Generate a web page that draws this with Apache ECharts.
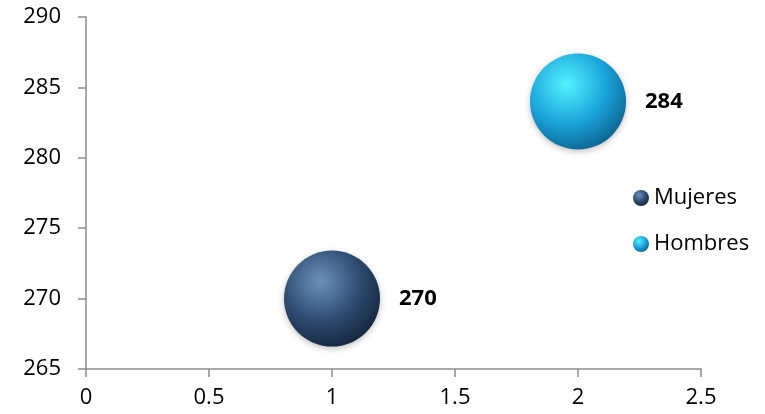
<!DOCTYPE html>
<html><head><meta charset="utf-8">
<script src="https://cdn.jsdelivr.net/npm/echarts@6/dist/echarts.min.js"></script>
<style>html,body{margin:0;padding:0;background:#fff}#c{width:765px;height:414px}</style>
</head><body><div id="c"></div>
<script>
var seriesNames = ['Mujeres', 'Hombres'];
var xValues = [1, 2];
var yValues = [270, 284];
var xTicks = [0, 0.5, 1, 1.5, 2, 2.5];
var yTicks = [265, 270, 275, 280, 285, 290];

var font = '"Open Sans", Lato, sans-serif';
function grad(hi, mid, lo) {
  return {type:'radial', x:0.38, y:0.32, r:0.75, colorStops:[
    {offset:0, color:hi},{offset:0.55, color:mid},{offset:1, color:lo}]};
}
var fills = [grad('#6b91bd', '#2e4b70', '#14233a'), grad('#55f2ff', '#1aa4db', '#0b5f8a')];

var chart = echarts.init(document.getElementById('c'));
chart.setOption({
  animation:false,
  grid:{left:86, right:64, top:17, bottom:45},
  xAxis:{type:'value', min:xTicks[0], max:xTicks[xTicks.length-1], interval:0.5,
    axisLine:{show:true, lineStyle:{color:'#8c8c8c', width:1.5}},
    axisTick:{show:true, length:8, lineStyle:{color:'#8c8c8c', width:1.5}},
    splitLine:{show:false},
    axisLabel:{color:'#000', fontSize:22, fontFamily:font, margin:18}},
  yAxis:{type:'value', min:yTicks[0], max:yTicks[yTicks.length-1], interval:5,
    axisLine:{show:true, lineStyle:{color:'#8c8c8c', width:1.5}},
    axisTick:{show:true, length:8, lineStyle:{color:'#8c8c8c', width:1.5}},
    splitLine:{show:false},
    axisLabel:{color:'#000', fontSize:22, fontFamily:font, margin:25}},
  legend:{orient:'vertical', left:628, top:182, itemGap:24, itemWidth:16, itemHeight:16,
    icon:'circle', textStyle:{color:'#000', fontSize:22, fontFamily:font},
    data:seriesNames},
  series: seriesNames.map(function(n, i){
    return {name:n, type:'scatter', symbol:'circle', symbolSize:96,
      data:[[xValues[i], yValues[i]]],
      itemStyle:{color:fills[i], opacity:1, shadowBlur:6, shadowColor:'rgba(0,0,0,0.25)', shadowOffsetY:2},
      label:{show:true, position:'right', distance:19, formatter:function(p){return p.value[1];},
        color:'#000', fontSize:22, fontWeight:'bold', fontFamily:font}};
  })
});
</script></body></html>
